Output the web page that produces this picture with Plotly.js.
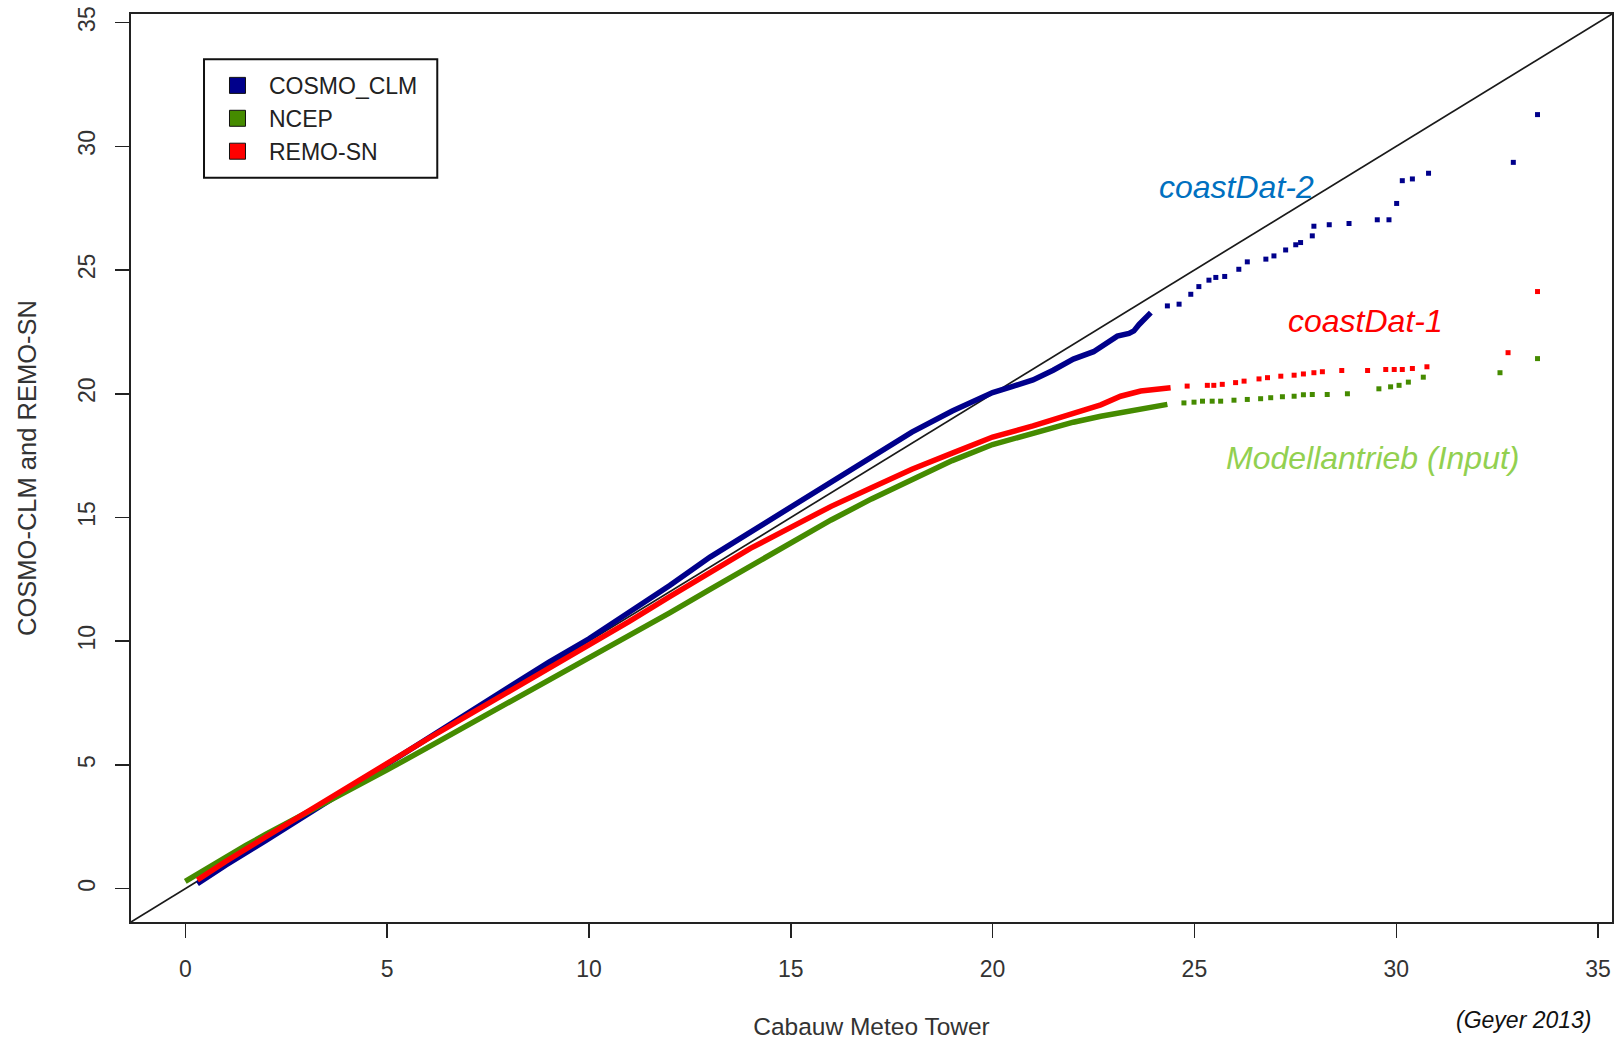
<!DOCTYPE html>
<html>
<head>
<meta charset="utf-8">
<script src="https://cdn.plot.ly/plotly-3.0.1.min.js"></script>
<style>html,body{margin:0;padding:0;background:#fff;}#chart{width:1614px;height:1040px;}</style>
</head>
<body>
<div id="chart"></div>
<script>
// Series names
const seriesNames = ["COSMO_CLM", "NCEP", "REMO-SN"];
const seriesColors = ["#00008B", "#458B00", "#FF0000"];

// Reference line y = x
const identityX = [-5, 40];
const identityY = [-5, 40];

// COSMO_CLM: dense quantile body
const cosmoBodyX = [0.3, 1, 2, 3, 4, 5, 6, 7, 8, 9, 10, 11, 12, 13, 14, 15, 16, 17, 18, 19, 20, 20.5, 21, 21.5, 22, 22.5, 22.76, 23.09, 23.38, 23.5, 23.63, 23.92];
const cosmoBodyY = [0.2, 0.95, 1.95, 2.97, 4.0, 5.05, 6.05, 7.08, 8.1, 9.15, 10.1, 11.15, 12.25, 13.4, 14.4, 15.4, 16.45, 17.45, 18.45, 19.3, 20.05, 20.3, 20.56, 20.95, 21.4, 21.7, 22.0, 22.33, 22.44, 22.54, 22.8, 23.28];
// COSMO_CLM: sparse upper quantiles
const cosmoTailX = [24.33, 24.62, 24.91, 25.11, 25.36, 25.53, 25.75, 26.10, 26.31, 26.77, 26.97, 27.26, 27.51, 27.63, 27.92, 27.96, 28.34, 28.83, 29.53, 29.82, 30.01, 30.15, 30.40, 30.80, 32.90, 33.50];
const cosmoTailY = [23.55, 23.62, 24.02, 24.33, 24.59, 24.70, 24.74, 25.03, 25.33, 25.44, 25.57, 25.81, 26.02, 26.11, 26.38, 26.77, 26.83, 26.88, 27.03, 27.03, 27.69, 28.61, 28.68, 28.91, 29.35, 31.28];

// NCEP
const ncepBodyX = [0, 0.5, 1, 1.5, 2, 3, 4, 5, 6, 7, 8, 9, 10, 11, 12, 13, 14, 15, 16, 17, 18, 19, 20, 21, 22, 22.68, 23.34, 23.83, 24.33];
const ncepBodyY = [0.3, 0.8, 1.3, 1.75, 2.2, 3.05, 3.9, 4.8, 5.7, 6.6, 7.5, 8.4, 9.3, 10.2, 11.15, 12.1, 13.05, 14.0, 14.9, 15.75, 16.55, 17.3, 17.95, 18.4, 18.85, 19.09, 19.30, 19.43, 19.57];
const ncepTailX = [24.74, 24.99, 25.2, 25.44, 25.65, 25.98, 26.31, 26.64, 26.89, 27.18, 27.47, 27.7, 27.92, 28.29, 28.79, 29.57, 29.86, 30.07, 30.30, 30.67, 32.57, 33.50];
const ncepTailY = [19.63, 19.66, 19.70, 19.70, 19.70, 19.74, 19.77, 19.8, 19.84, 19.88, 19.90, 19.96, 19.97, 19.97, 20.0, 20.20, 20.28, 20.34, 20.47, 20.67, 20.85, 21.42];

// REMO-SN
const remoBodyX = [0.3, 1, 2, 3, 4, 5, 6, 7, 8, 9, 10, 11, 12, 13, 14, 15, 16, 17, 18, 19, 20, 21, 22, 22.68, 23.17, 23.67, 24.41];
const remoBodyY = [0.35, 1.1, 2.1, 3.1, 4.1, 5.1, 6.05, 7.0, 7.95, 8.85, 9.8, 10.8, 11.8, 12.8, 13.75, 14.6, 15.45, 16.2, 16.95, 17.6, 18.25, 18.7, 19.2, 19.55, 19.90, 20.11, 20.24];
const remoTailX = [24.82, 25.32, 25.48, 25.69, 26.02, 26.23, 26.6, 26.81, 27.14, 27.47, 27.7, 27.96, 28.17, 28.65, 29.29, 29.74, 29.95, 30.15, 30.40, 30.76, 32.77, 33.50];
const remoTailY = [20.31, 20.34, 20.34, 20.38, 20.45, 20.51, 20.6, 20.65, 20.71, 20.75, 20.8, 20.85, 20.89, 20.94, 20.94, 20.98, 20.98, 20.98, 21.02, 21.09, 21.66, 24.13];

// Axis ticks
const tickValues = [0, 5, 10, 15, 20, 25, 30, 35];
const tickLabels = ["0", "5", "10", "15", "20", "25", "30", "35"];

const FONT = "Liberation Sans, Arial, Helvetica, sans-serif";

const bodies = [[cosmoBodyX, cosmoBodyY], [ncepBodyX, ncepBodyY], [remoBodyX, remoBodyY]];
const tails = [[cosmoTailX, cosmoTailY], [ncepTailX, ncepTailY], [remoTailX, remoTailY]];

const traces = [{
  x: identityX, y: identityY, type: "scatter", mode: "lines",
  line: {color: "#1a1a1a", width: 1.7}, showlegend: false, hoverinfo: "skip"
}];

for (let i = 0; i < 3; i++) {
  traces.push({
    x: bodies[i][0], y: bodies[i][1], type: "scatter", mode: "lines",
    name: seriesNames[i], legendgroup: seriesNames[i], showlegend: false,
    line: {color: seriesColors[i], width: 5.5, shape: "linear"}
  });
  traces.push({
    x: tails[i][0], y: tails[i][1], type: "scatter", mode: "markers",
    name: seriesNames[i], legendgroup: seriesNames[i], showlegend: false,
    marker: {symbol: "square", size: 5, color: seriesColors[i]}
  });
}
// legend entries
for (let i = 0; i < 3; i++) {
  traces.push({
    x: [null], y: [null], type: "scatter", mode: "markers",
    name: "\u2002" + seriesNames[i], legendgroup: seriesNames[i], showlegend: true,
    marker: {symbol: "square", size: 16, color: seriesColors[i], line: {color: "#111", width: 1}}
  });
}

const axisCommon = {
  range: [-1.345, 35.345], tickmode: "array", tickvals: tickValues, ticktext: tickLabels,
  ticks: "outside", ticklen: 14, tickwidth: 1.5, tickcolor: "#222",
  showline: true, mirror: true, linecolor: "#222", linewidth: 2,
  showgrid: false, zeroline: false, automargin: false,
  tickfont: {family: FONT, size: 23, color: "#333"}
};

const layout = {
  width: 1614, height: 1040,
  margin: {l: 131, r: 2, t: 14, b: 118},
  paper_bgcolor: "#fff", plot_bgcolor: "#fff",
  font: {family: FONT, color: "#222"},
  xaxis: Object.assign({}, axisCommon, {
    ticklabelstandoff: 11,
    title: {text: "Cabauw Meteo Tower", font: {family: FONT, size: 24.5, color: "#333"}, standoff: 38}
  }),
  yaxis: Object.assign({}, axisCommon, {
    tickangle: -90, ticklabelstandoff: 11,
    title: {text: "COSMO-CLM and REMO-SN", font: {family: FONT, size: 25.5, color: "#333"}, standoff: 30}
  }),
  showlegend: true,
  legend: {
    x: 0.0584, y: 0.945, xanchor: "left", yanchor: "top",
    bgcolor: "rgba(0,0,0,0)", borderwidth: 0,
    font: {family: FONT, size: 23, color: "#222"},
    traceorder: "normal", itemsizing: "trace", tracegroupgap: 0
  },
  shapes: [
    {type: "rect", xref: "paper", yref: "paper", x0: 0.0493, x1: 0.2068, y0: 0.8197, y1: 0.9501,
     line: {color: "#111", width: 2}, fillcolor: "rgba(0,0,0,0)", layer: "above"}
  ],
  annotations: [
    {x: 26.03, y: 28.36, xref: "x", yref: "y", text: "<i>coastDat-2</i>", showarrow: false,
     xanchor: "center", yanchor: "middle", font: {family: FONT, size: 32, color: "#0070C0"}},
    {x: 29.25, y: 22.92, xref: "x", yref: "y", text: "<i>coastDat-1</i>", showarrow: false,
     xanchor: "center", yanchor: "middle", font: {family: FONT, size: 32, color: "#FF0000"}},
    {x: 29.41, y: 17.40, xref: "x", yref: "y", text: "<i>Modellantrieb (Input)</i>", showarrow: false,
     xanchor: "center", yanchor: "middle", font: {family: FONT, size: 32, color: "#92D050"}},
    {x: 0.9406, y: -0.108, xref: "paper", yref: "paper", text: "<i>(Geyer 2013)</i>", showarrow: false,
     xanchor: "center", yanchor: "middle", font: {family: FONT, size: 23, color: "#111"}}
  ]
};

Plotly.newPlot("chart", traces, layout, {displayModeBar: false, staticPlot: true});
</script>
</body>
</html>
